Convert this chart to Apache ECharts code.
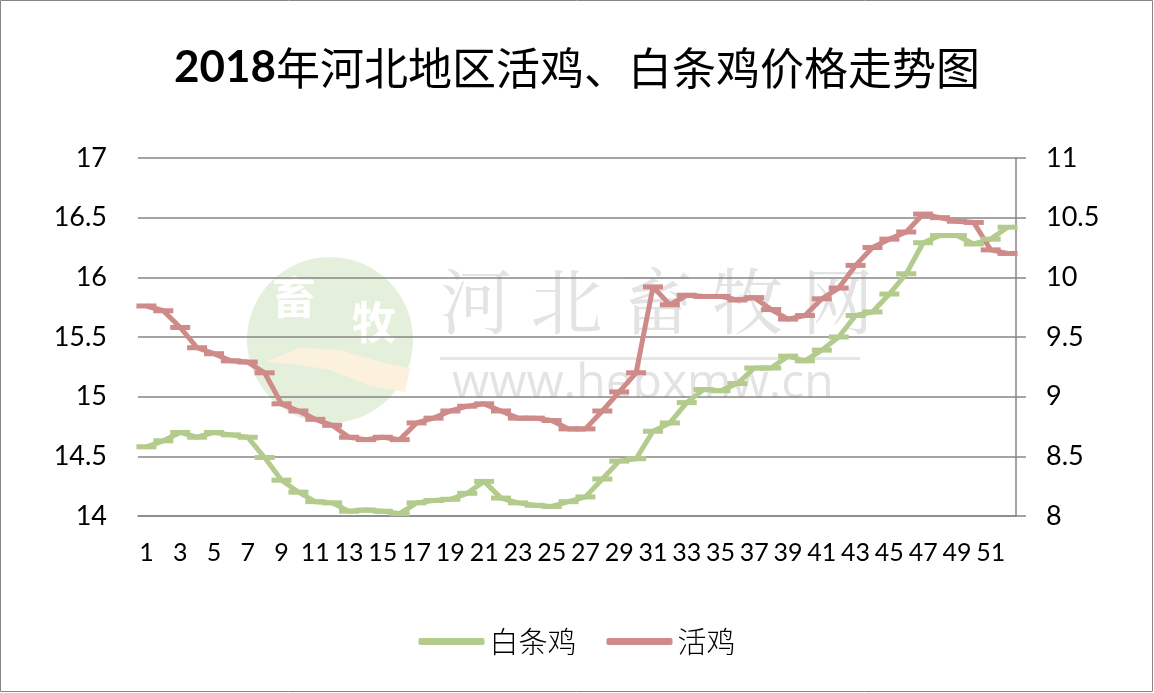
<!DOCTYPE html>
<html><head><meta charset="utf-8">
<script src="https://cdn.jsdelivr.net/npm/echarts@6/dist/echarts.min.js"></script>
<style>html,body{margin:0;padding:0;background:#fff}#c{width:1154px;height:693px}</style>
</head><body><div id="c"></div>
<script>
const categories = Array.from({length:52},(_,i)=>String(i+1));
const baitiaoji = [14.58,14.63,14.70,14.66,14.70,14.68,14.66,14.49,14.30,14.20,14.12,14.11,14.04,14.05,14.04,14.02,14.11,
 14.13,14.14,14.19,14.29,14.15,14.11,14.09,14.08,14.12,14.16,14.31,14.46,14.48,14.71,14.78,14.95,15.06,15.05,
 15.11,15.24,15.24,15.34,15.30,15.39,15.50,15.68,15.71,15.86,16.03,16.29,16.35,16.35,16.28,16.32,16.42];
const huoji = [9.76,9.72,9.58,9.41,9.36,9.30,9.29,9.20,8.94,8.88,8.81,8.76,8.66,8.64,8.66,8.64,8.78,
 8.82,8.88,8.92,8.94,8.88,8.82,8.82,8.80,8.73,8.73,8.88,9.04,9.20,9.92,9.77,9.85,9.84,9.84,
 9.81,9.83,9.73,9.65,9.68,9.82,9.91,10.10,10.25,10.32,10.38,10.53,10.50,10.47,10.46,10.23,10.20];
const titleYear = '2018';
const titleRest = '年河北地区活鸡、白条鸡价格走势图';
const seriesNames = ['白条鸡','活鸡'];

const font = 'Lato, "Noto Sans CJK SC", sans-serif';
const cjk = '"Noto Sans CJK SC", sans-serif';
const axisGray = '#868686';
const green = '#b3cb8c', red = '#cf8a8a';
const chart = echarts.init(document.getElementById('c'));
chart.setOption({
  animation:false,
  backgroundColor:'#fff',
  title:{text:'{y|'+titleYear+'}{n|'+titleRest+'}',left:'center',top:41,
    textStyle:{rich:{
      y:{fontFamily:'Lato, sans-serif',fontWeight:'bold',fontSize:44,color:'#000'},
      n:{fontFamily:cjk,fontWeight:'normal',fontSize:44,color:'#000'}}}},
  legend:{data:seriesNames,bottom:32,left:'center',icon:'roundRect',itemWidth:66,itemHeight:7,itemGap:30,
    textStyle:{fontFamily:cjk,fontSize:29,color:'#000',fontWeight:300}},
  grid:{left:138,right:138,top:158,bottom:177},
  graphic:[
    {type:'rect',z:-10,shape:{x:0.5,y:0.5,width:1152,height:691},style:{fill:'none',stroke:axisGray,lineWidth:1}},
    {type:'circle',z:-5,shape:{cx:330,cy:340,r:83},style:{fill:'#e4f0dc'}},
    {type:'text',z:-4,left:272,top:275,style:{text:'畜',fill:'#fff',font:'bold 44px "Noto Sans CJK SC"'}},
    {type:'text',z:-4,left:352,top:300,style:{text:'牧',fill:'#fff',font:'bold 44px "Noto Sans CJK SC"'}},
    {type:'polygon',z:-4,shape:{points:[[265,362],[300,348],[340,350],[380,362],[410,368],[405,392],[370,386],[330,370],[295,364]]},style:{fill:'#fbf1dc'}},
    {type:'text',z:-4,left:440,top:265,style:{text:'河 北 畜 牧 网',fill:'#e3e3e3',font:'72px "Noto Serif CJK SC", "Noto Sans CJK SC"'}},
    {type:'rect',z:-4,shape:{x:440,y:357,width:420,height:3},style:{fill:'#e6e6e6'}},
    {type:'text',z:-4,left:452,top:360,style:{text:'www.hebxmw.cn',fill:'#e3e3e3',font:'48px "Open Sans"'}}
  ],
  xAxis:{type:'category',data:categories,boundaryGap:true,
    axisLine:{lineStyle:{color:axisGray,width:1.5}},axisTick:{show:false},
    axisLabel:{interval:1,fontFamily:font,fontSize:25,color:'#000',margin:24}},
  yAxis:[
    {type:'value',min:14,max:17,interval:0.5,position:'left',
     axisLine:{show:false},axisTick:{show:false},
     splitLine:{lineStyle:{color:axisGray,width:1.5}},
     axisLabel:{fontFamily:font,fontSize:27,color:'#000',margin:31}},
    {type:'value',min:8,max:11,interval:0.5,position:'right',
     axisLine:{show:true,lineStyle:{color:axisGray,width:1.5}},
     axisTick:{show:true,length:10,lineStyle:{color:axisGray,width:1.5}},
     splitLine:{show:false},
     axisLabel:{fontFamily:font,fontSize:27,color:'#000',margin:30}}
  ],
  series:[
    {name:seriesNames[0],type:'line',yAxisIndex:0,data:baitiaoji,color:green,
     lineStyle:{width:5,color:green},symbol:'rect',symbolSize:[20,5],showSymbol:true,
     itemStyle:{color:green}},
    {name:seriesNames[1],type:'line',yAxisIndex:1,data:huoji,color:red,
     lineStyle:{width:5,color:red},symbol:'rect',symbolSize:[20,5],showSymbol:true,
     itemStyle:{color:red}}
  ]
});
</script></body></html>
